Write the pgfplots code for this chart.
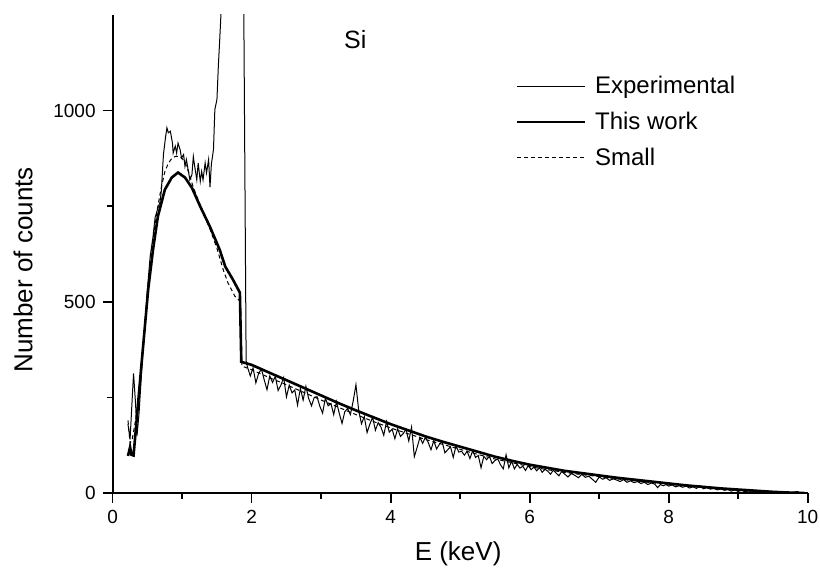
\documentclass[border=0pt]{standalone}
\usepackage{pgfplots}
\pgfplotsset{compat=1.18}
\usepackage{fontspec}
\setmainfont{Liberation Sans}
\begin{document}
\begin{tikzpicture}
\useasboundingbox (-56.35pt,-39pt) rectangle (353.65pt,246.5pt);
\begin{axis}[
  scale only axis, width=347.5pt, height=239pt,
  xmin=0, xmax=10, ymin=0, ymax=1250,
  axis x line*=bottom, axis y line*=left,
  xtick={0,2,...,10}, ytick={0,500,1000},
  minor x tick num=1, minor y tick num=1,
  tick align=outside, major tick length=5pt, minor tick length=3pt,
  tick style={black, line width=0.8pt},
  axis line style={black, line width=0.9pt},
  /pgf/number format/assume math mode=true,
  /pgf/number format/1000 sep={},
  ticklabel style={font=\fontsize{9.5}{11}\selectfont},
  xlabel={E (keV)}, ylabel={Number of counts},
  label style={font=\fontsize{13}{15}\selectfont},
  xlabel style={at={(axis description cs:0.497,-0.128)}, anchor=center},
  ylabel style={at={(axis description cs:-0.129,0.467)}, anchor=center, rotate=0},
  legend style={draw=none, fill=none, inner sep=0pt, row sep=3.75pt, column sep=2.5pt,
    font=\fontsize{12}{14}\selectfont,
    at={(axis description cs:0.579,0.776)}, anchor=west},
  legend cell align=left,
  legend image code/.code={\draw[#1] (0pt,0pt) -- (34pt,0pt);},
]
% Experimental
\addplot[black, line width=0.5pt] coordinates {
(0.22,180)(0.25,140)(0.27,210)(0.30,313)(0.33,230)(0.35,150)(0.38,210)(0.42,330)
(0.46,430)(0.50,535)(0.54,620)(0.58,670)(0.61,720)(0.65,745)(0.68,760)(0.70,790)
(0.73,885)(0.76,930)(0.78,955)(0.80,942)(0.83,946)(0.86,915)(0.87,889)(0.90,907)
(0.92,889)(0.94,915)(0.97,898)(0.99,876)(1.02,885)(1.04,854)(1.06,872)(1.09,841)
(1.11,819)(1.14,832)(1.16,880)(1.18,854)(1.21,819)(1.23,863)(1.26,815)(1.28,841)
(1.30,819)(1.33,863)(1.35,837)(1.38,872)(1.40,800)(1.42,860)(1.45,898)(1.47,1003)
(1.50,1029)(1.52,1116)(1.54,1186)(1.56,1260)(1.75,6000)(1.885,1300)(1.92,345)
(1.94,329)(1.98,306)(2.02,327)(2.06,288)(2.10,313)(2.14,324)(2.18,296)(2.22,270)
(2.26,306)(2.30,289)(2.34,305)(2.38,268)(2.42,282)(2.46,302)(2.50,251)(2.54,282)
(2.58,262)(2.62,269)(2.66,230)(2.70,274)(2.74,243)(2.78,279)(2.82,247)(2.86,228)
(2.90,250)(2.94,252)(2.98,227)(3.02,209)(3.06,248)(3.10,228)(3.14,234)(3.18,205)
(3.22,239)(3.26,208)(3.30,182)(3.34,213)(3.38,221)(3.42,205)(3.46,240)(3.50,283)
(3.54,215)(3.58,181)(3.62,200)(3.66,158)(3.70,180)(3.74,198)(3.78,164)(3.82,184)
(3.86,172)(3.90,151)(3.94,187)(3.98,159)(4.02,167)(4.06,142)(4.10,168)(4.14,148)
(4.18,155)(4.22,167)(4.26,136)(4.30,172)(4.34,95)(4.38,119)(4.42,145)(4.46,130)
(4.50,146)(4.54,132)(4.58,113)(4.62,137)(4.66,115)(4.70,127)(4.74,135)(4.78,105)
(4.82,113)(4.86,121)(4.90,93)(4.94,123)(4.98,107)(5.02,109)(5.06,99)(5.10,109)
(5.14,90)(5.18,111)(5.22,93)(5.26,98)(5.30,66)(5.34,96)(5.38,87)(5.42,96)
(5.46,77)(5.50,85)(5.54,89)(5.58,74)(5.62,63)(5.66,100)(5.70,66)(5.74,83)
(5.78,63)(5.82,75)(5.86,65)(5.90,70)(5.94,59)(5.98,72)(6.02,61)(6.06,68)
(6.10,58)(6.14,66)(6.18,54)(6.22,62)(6.26,57)(6.30,49)(6.34,60)(6.38,52)
(6.42,45)(6.46,56)(6.50,50)(6.55,42)(6.60,51)(6.65,46)(6.70,40)(6.75,49)
(6.80,41)(6.85,44)(6.90,36)(6.95,28)(7.00,42)(7.05,36)(7.10,40)(7.15,33)
(7.20,37)(7.25,34)(7.30,30)(7.35,35)(7.40,28)(7.45,32)(7.50,27)(7.55,30)
(7.60,25)(7.65,28)(7.70,22)(7.75,26)(7.80,23)(7.84,14)(7.88,22)(7.92,19)
(7.96,22)(8.00,18)(8.05,21)(8.10,16)(8.15,19)(8.20,15)(8.25,18)(8.30,13)
(8.35,16)(8.40,12)(8.45,19)(8.50,11)(8.55,14)(8.60,10)(8.65,12)(8.70,8)
(8.75,11)(8.80,7)(8.85,9)(8.90,5)(8.95,8)(9.00,4)(9.05,7)(9.10,3)
(9.15,6)(9.20,2)(9.25,5)(9.30,2)(9.35,4)(9.40,1)(9.45,3)(9.50,1)
(9.60,3)(9.70,0)(9.80,2)(9.85,4)(9.90,0)
};
\addlegendentry{Experimental}
% This work
\addplot[black, line width=1.3pt] coordinates {
(0.22,97)(0.25,120)(0.27,100)(0.30,98)(0.42,348)(0.51,531)(0.58,636)(0.65,723)
(0.75,793)(0.85,825)(0.94,838)(1.04,825)(1.14,798)(1.26,749)(1.40,696)(1.54,636)
(1.62,592)(1.73,558)(1.83,524)(1.85,343)(2.00,335)(2.25,315)(2.50,295)(2.75,275)
(3.00,255)(3.25,235)(3.50,216)(3.75,198)(4.00,180)(4.25,164)(4.50,148)(4.75,134)
(5.00,121)(5.25,108)(5.50,95)(5.75,84)(6.00,74)(6.25,66)(6.50,58)(6.75,52)
(7.00,46)(7.25,40)(7.50,35)(7.75,30)(8.00,25)(8.25,20)(8.50,16)(8.75,12)
(9.00,9)(9.25,6)(9.50,3)(9.75,1)(9.95,0)
};
\addlegendentry{This work}
% Small
\addplot[black, line width=0.5pt, dash pattern=on 2pt off 1.5pt] coordinates {
(0.22,190)(0.25,130)(0.28,140)(0.32,180)(0.36,230)(0.40,300)(0.45,410)(0.50,520)
(0.55,620)(0.60,690)(0.65,750)(0.70,800)(0.75,840)(0.80,862)(0.85,875)(0.90,880)
(0.95,880)(1.00,875)(1.05,860)(1.10,835)(1.15,805)(1.20,780)(1.30,735)(1.40,690)
(1.50,640)(1.59,584)(1.66,549)(1.76,514)(1.84,500)(1.86,332)(2.00,322)(2.25,302)
(2.50,283)(2.75,263)(3.00,243)(3.25,224)(3.50,205)(3.75,187)(4.00,170)(4.25,155)
(4.50,140)(4.75,127)(5.00,114)(5.25,101)(5.50,89)(5.75,79)(6.00,69)(6.25,61)
(6.50,54)(6.75,48)(7.00,43)(7.25,37)(7.50,32)(7.75,27)(8.00,23)(8.25,19)
(8.50,15)(8.75,11)(9.00,8)(9.25,5)(9.50,3)(9.75,1)(9.95,0)
};
\addlegendentry{Small}
\node[font=\fontsize{12.5}{14}\selectfont] at (axis cs:3.49,1186) {Si};
\end{axis}
\end{tikzpicture}
\end{document}
